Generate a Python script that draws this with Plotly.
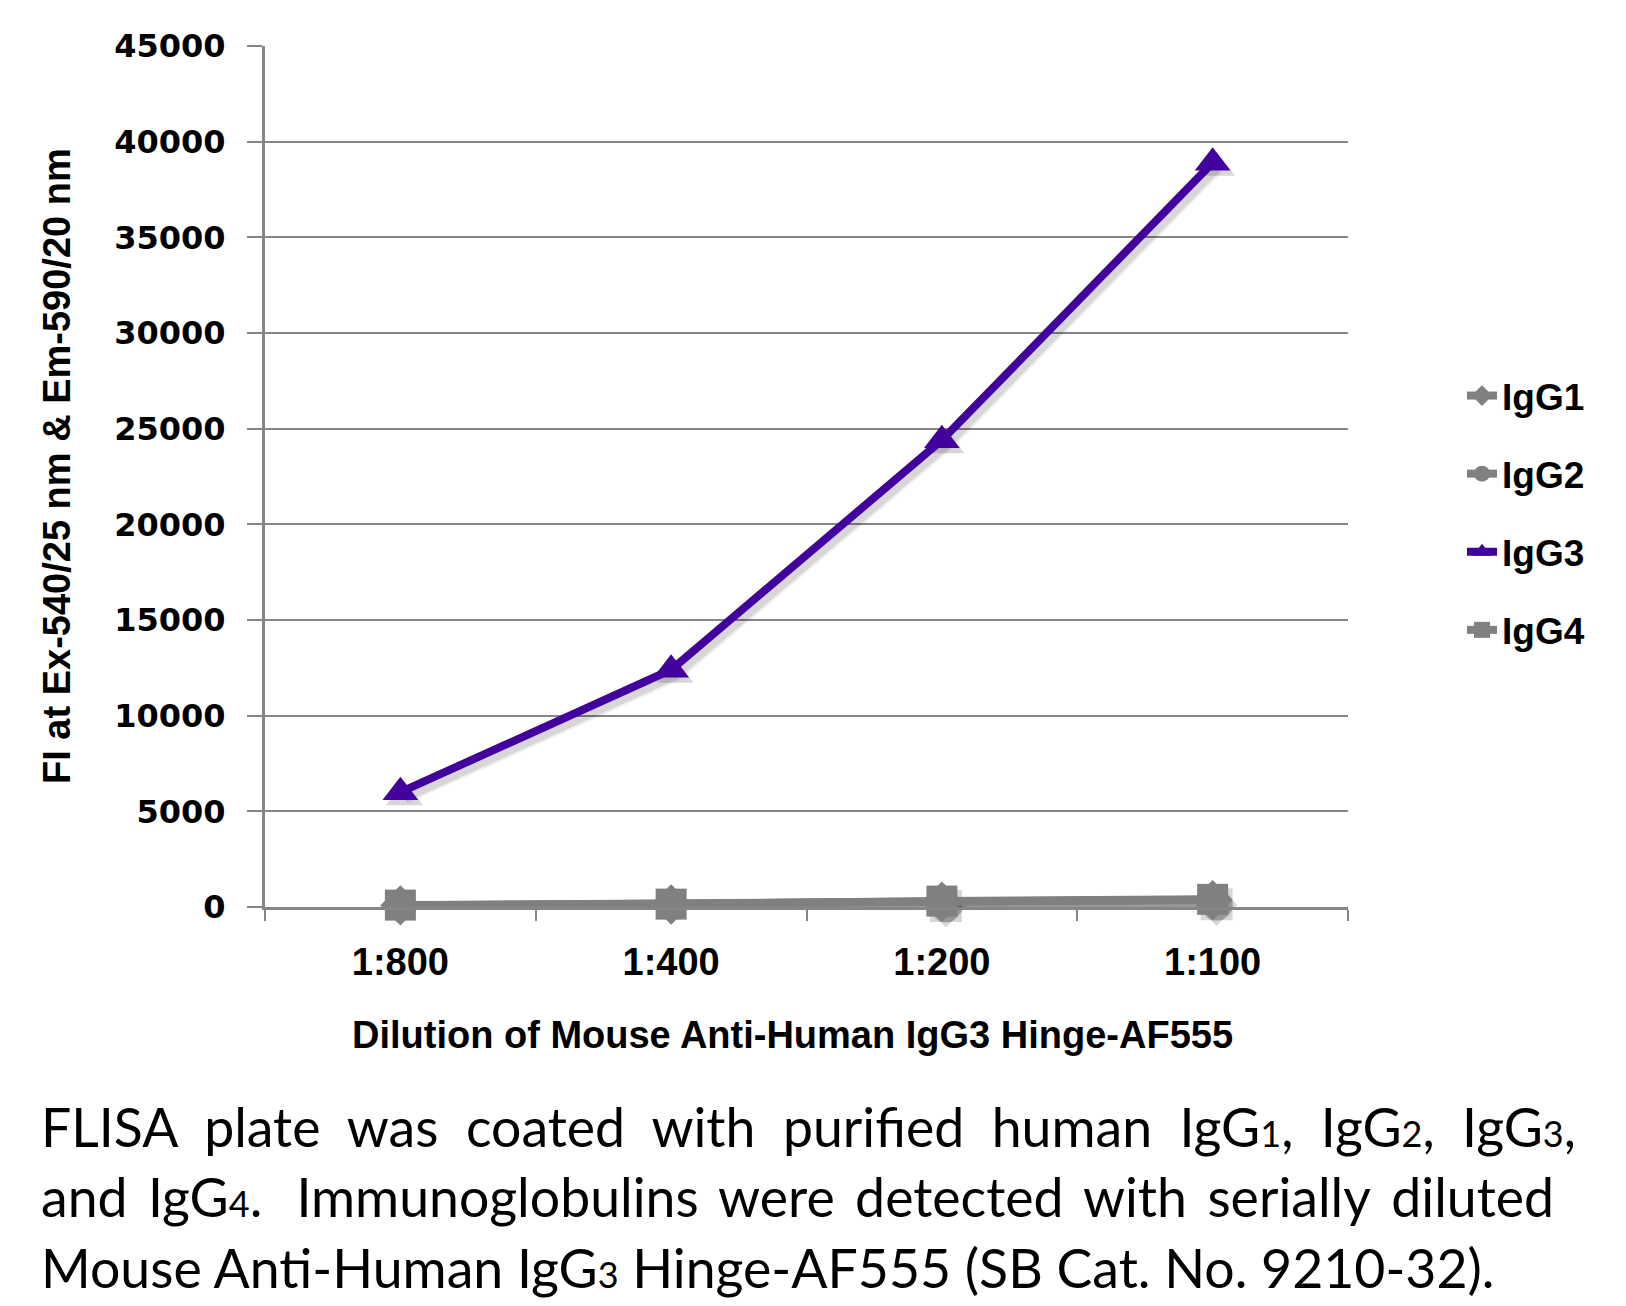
import plotly.graph_objects as go

# ---------------- data ----------------
dilutions = ["1:800", "1:400", "1:200", "1:100"]
igg1 = [80, 130, 280, 360]
igg2 = [90, 140, 290, 380]
igg3 = [6000, 12400, 24400, 38900]
igg4 = [100, 150, 310, 400]
y_ticks = [0, 5000, 10000, 15000, 20000, 25000, 30000, 35000, 40000, 45000]

series_names = ["IgG1", "IgG2", "IgG3", "IgG4"]
series_values = [igg1, igg2, igg3, igg4]
series_symbols = ["diamond", "circle", "triangle-up", "square"]
series_colors = ["#808080", "#808080", "#42009C", "#808080"]

x_title = "Dilution of Mouse Anti-Human IgG3 Hinge-AF555"
y_title = "FI at Ex-540/25 nm &amp; Em-590/20 nm"
sub = lambda d: f'<span style="font-size:36px">{d}</span>'
S1 = "\u00a0 "      # widened gap (line 1 is justified)
S2 = "\u2009 "      # slightly widened gap (line 2 is justified)
caption_lines = [
    S1.join(["FLISA", "plate", "was", "coated", "with", "purified", "human",
             f"IgG{sub(1)},", f"IgG{sub(2)},", f"IgG{sub(3)},"]),
    S2.join(["and", f"IgG{sub(4)}.\u00a0", "Immunoglobulins", "were", "detected", "with",
             "serially", "diluted"]),
    f"Mouse Anti-Human IgG{sub(3)} Hinge-AF555 (SB Cat. No. 9210-32).",
]

# ---------------- layout geometry (pixels) ----------------
W, H = 1626, 1306
L, R, T, B = 265, 278, 46, 399
PW, PH = W - L - R, H - T - B
px = lambda x: (x - L) / PW
py = lambda y: (H - B - y) / PH

GRAY = "#868686"
BOLD = "Liberation Sans, Arial, sans-serif"
YMAX = 45000
x_idx = list(range(len(dilutions)))
x_range = [-0.5, len(dilutions) - 0.5]
SH_DX, SH_DY = 4, 5                       # drop-shadow offset in px
dx = SH_DX * len(dilutions) / PW
dy = SH_DY * YMAX / PH

fig = go.Figure()
# invisible carrier so the base axes (grid, ticks, labels) are drawn
fig.add_trace(go.Scatter(x=x_idx, y=igg3, mode="lines", line=dict(width=0, color="rgba(0,0,0,0)"),
                         showlegend=False, hoverinfo="skip"))
# soft drop shadows (on a shifted overlay axis pair)
for name, vals, sym in zip(series_names, series_values, series_symbols):
    for w, a in [(14, 0.06), (10, 0.10)]:
        fig.add_trace(go.Scatter(
            x=x_idx, y=vals, mode="lines+markers", showlegend=False, hoverinfo="skip",
            line=dict(color=f"rgba(0,0,0,{a})", width=w),
            marker=dict(symbol=sym, size=32, color=f"rgba(0,0,0,{a})"),
            xaxis="x2", yaxis="y2", cliponaxis=False,
        ))
# main series
for name, vals, sym, col in zip(series_names, series_values, series_symbols, series_colors):
    fig.add_trace(go.Scatter(
        x=x_idx, y=vals, name=name, mode="lines+markers",
        line=dict(color=col, width=8),
        marker=dict(symbol=sym, size=31, color=col),
        legendgroup=name, xaxis="x3", yaxis="y3", cliponaxis=False,
    ))

annotations = [
    dict(text=f"<b>{x_title}</b>", x=px(792), y=py(1035), xref="paper", yref="paper",
         xanchor="center", yanchor="middle", showarrow=False,
         font=dict(family=BOLD, size=38, color="black")),
    dict(text=f"<b>{y_title}</b>", x=px(57), y=py(466), xref="paper", yref="paper",
         xanchor="center", yanchor="middle", showarrow=False, textangle=-90,
         font=dict(family=BOLD, size=38, color="black")),
]
for line, base in zip(caption_lines, [1147, 1217, 1288]):
    annotations.append(dict(
        text=line, x=px(39), y=py(base - 21), xref="paper", yref="paper",
        xanchor="left", yanchor="middle", showarrow=False,
        font=dict(family="Lato, sans-serif", size=53.6, color="black")))

hidden = dict(visible=False, showgrid=False, zeroline=False)
fig.update_layout(
    width=W, height=H,
    margin=dict(l=L, r=R, t=T, b=B, pad=0),
    paper_bgcolor="white", plot_bgcolor="white",
    showlegend=True,
    legend=dict(
        x=px(1462), y=py(513), xanchor="left", yanchor="middle",
        font=dict(family=BOLD, size=37, color="black", weight="bold"),
        tracegroupgap=27, bgcolor="rgba(0,0,0,0)", itemwidth=30,
    ),
    annotations=annotations,
    xaxis=dict(
        range=x_range, tickvals=x_idx, ticktext=dilutions, ticks="",
        minor=dict(tickvals=[i - 0.5 for i in range(len(dilutions) + 1)],
                   ticks="outside", ticklen=11, tickwidth=2, tickcolor=GRAY, showgrid=False),
        showline=True, linecolor=GRAY, linewidth=3, showgrid=False, zeroline=False,
        tickfont=dict(family=BOLD, size=38, color="black", weight="bold"),
        ticklabelstandoff=19,
    ),
    yaxis=dict(
        range=[0, YMAX], tickvals=y_ticks, ticktext=[str(v) for v in y_ticks],
        ticks="outside", ticklen=15, tickwidth=2, tickcolor=GRAY,
        showline=True, linecolor=GRAY, linewidth=3, showgrid=True, gridcolor=GRAY,
        gridwidth=2, zeroline=False,
        tickfont=dict(family="DejaVu Sans, sans-serif", size=32, color="black", weight="bold"),
        ticklabelstandoff=15,
    ),
    xaxis2=dict(overlaying="x", range=[x_range[0] - dx, x_range[1] - dx], **hidden),
    yaxis2=dict(overlaying="y", range=[dy, YMAX + dy], **hidden),
    xaxis3=dict(overlaying="x", range=x_range, **hidden),
    yaxis3=dict(overlaying="y", range=[0, YMAX], **hidden),
)

fig.write_html("out.html")
